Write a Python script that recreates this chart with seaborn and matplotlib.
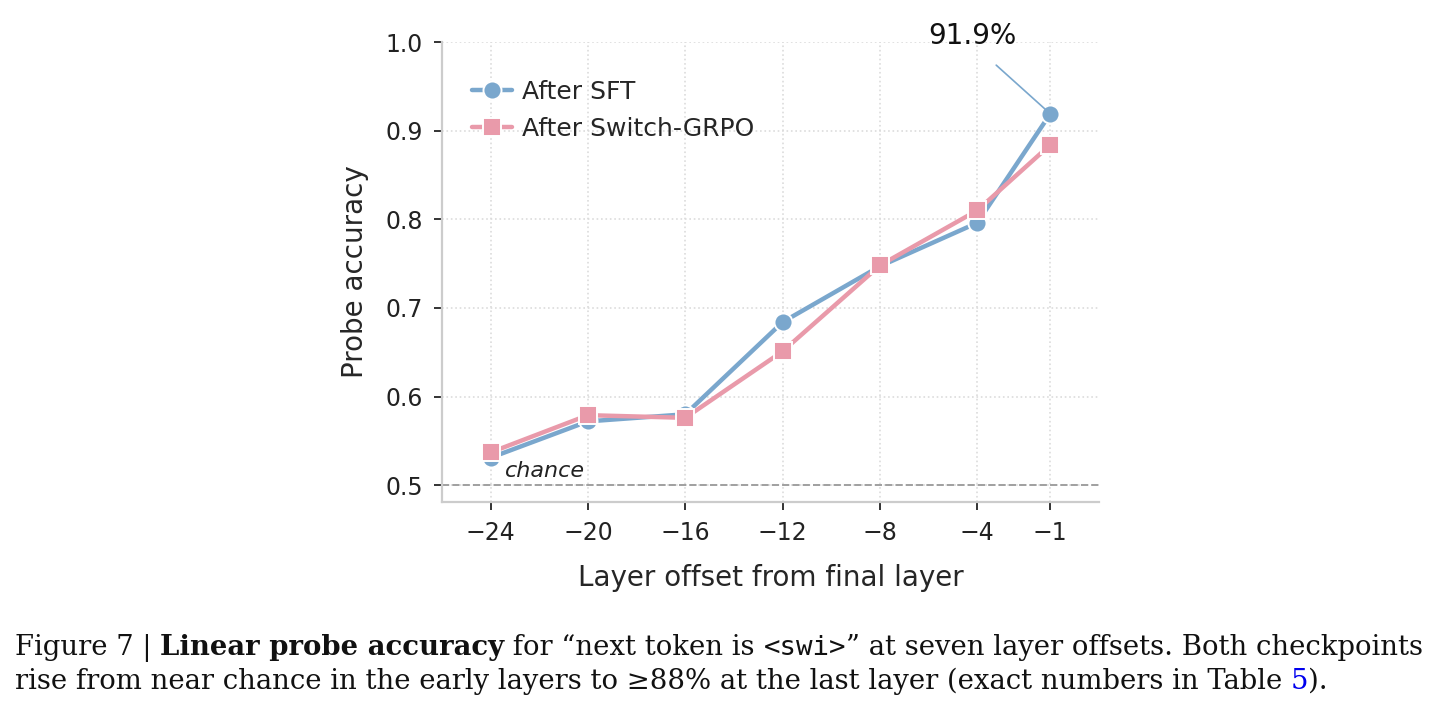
import matplotlib
matplotlib.use("Agg")
import matplotlib.pyplot as plt
import seaborn as sns
import pandas as pd

# probe accuracy per layer offset
layers = [-24, -20, -16, -12, -8, -4, -1]
acc_sft = [0.531, 0.572, 0.580, 0.684, 0.747, 0.796, 0.919]
acc_grpo = [0.537, 0.579, 0.576, 0.651, 0.748, 0.810, 0.884]
series_names = ["After SFT", "After Switch-GRPO"]
y_ticks = [0.5, 0.6, 0.7, 0.8, 0.9, 1.0]
chance_level = 0.5

BLUE = "#7aa7cd"
PINK = "#e99aaa"

sns.set_theme(style="white")
plt.rcParams["font.family"] = ["DejaVu Sans"]

df = pd.DataFrame({
    "layer": layers * 2,
    "acc": acc_sft + acc_grpo,
    "model": [series_names[0]] * len(layers) + [series_names[1]] * len(layers),
})

fig = plt.figure(figsize=(7.21, 3.59), dpi=200)
ax = fig.add_axes([0.3065, 0.3008, 0.4556, 0.6407])

sns.lineplot(data=df, x="layer", y="acc", hue="model", style="model",
             markers=["o", "s"], dashes=False, palette=[BLUE, PINK],
             linewidth=1.6, markersize=6.5, markeredgecolor="white",
             markeredgewidth=0.7, ax=ax)

ax.axhline(chance_level, ls="--", color="#a0a0a0", lw=0.7, zorder=1)
ax.text(-23.4, 0.509, "chance", style="italic", fontsize=8, color="#222222")

ax.annotate(f"{acc_sft[-1] * 100:.1f}%", xy=(layers[-1], acc_sft[-1]),
            xytext=(-4.2, 1.007), ha="center", va="center", fontsize=10,
            color="#111111", annotation_clip=False,
            arrowprops=dict(arrowstyle="-", color=BLUE, lw=0.6,
                            shrinkA=5, shrinkB=2, relpos=(0.4, 0.5)))

ax.set_xlim(-26, 1)
ax.set_ylim(0.481, 1.0)
ax.set_xticks(layers)
ax.set_xticklabels([f"\u2212{abs(v)}" for v in layers])
ax.set_yticks(y_ticks)
ax.set_yticklabels([f"{v:.1f}" for v in y_ticks])
ax.set_xlabel("Layer offset from final layer", fontsize=10, labelpad=7)
ax.set_ylabel("Probe accuracy", fontsize=10, labelpad=6)
ax.tick_params(bottom=True, left=True, length=2.8, width=0.7, color="#333333",
               pad=4, labelsize=8.5, labelcolor="#222222")
ax.grid(True, linestyle=":", color="#dcdcdc", lw=0.6)
ax.set_axisbelow(True)
for side in ["top", "right"]:
    ax.spines[side].set_visible(False)
for side in ["left", "bottom"]:
    ax.spines[side].set_color("#cccccc")
    ax.spines[side].set_linewidth(0.8)

ax.legend(loc="upper left", bbox_to_anchor=(0.012, 0.966), frameon=False,
          fontsize=9, handlelength=1.6, handletextpad=0.4, labelspacing=0.5,
          title=None)

# caption underneath, laid out run by run
serif = "DejaVu Serif"
cap_size = 9.9
line1 = [
    ("Figure 7 | ", dict(family=serif)),
    ("Linear probe accuracy", dict(family=serif, weight="bold")),
    (" for \u201cnext token is ", dict(family=serif)),
    ("<swi>", dict(family="DejaVu Sans Mono")),
    ("\u201d at seven layer offsets. Both checkpoints", dict(family=serif)),
]
line2 = [
    ("rise from near chance in the early layers to \u226588% at the last layer (exact numbers in Table ", dict(family=serif)),
    ("5", dict(family=serif, color="#0000ee")),
    (").", dict(family=serif)),
]

fig.canvas.draw()
renderer = fig.canvas.get_renderer()
W, H = fig.get_size_inches() * fig.dpi
for runs, base_px in [(line1, 655), (line2, 689)]:
    x = 15
    for txt, kw in runs:
        t = fig.text(x / W, 1 - base_px / H, txt, fontsize=cap_size,
                     va="baseline", ha="left", color=kw.pop("color", "#111111"), **kw)
        x += t.get_window_extent(renderer).width

fig.savefig("out.png", dpi=200)
